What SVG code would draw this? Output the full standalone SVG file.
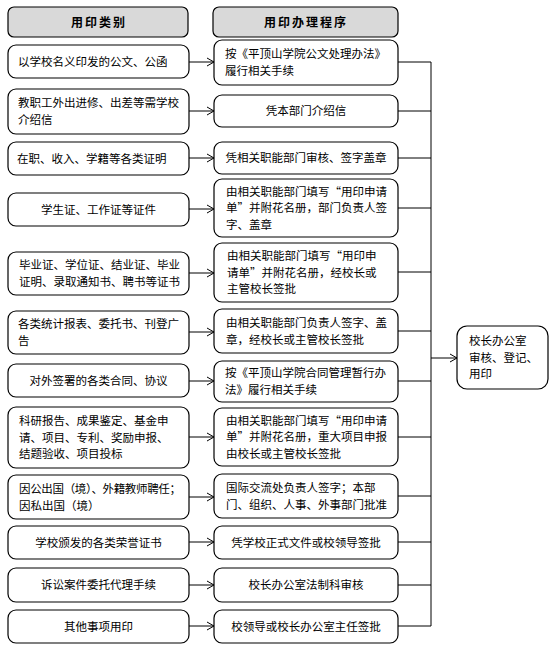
<svg xmlns="http://www.w3.org/2000/svg" width="556" height="654" viewBox="0 0 556 654">
<style>
text{font-family:"Noto Sans CJK SC","Noto Sans",sans-serif;font-size:11.5px;fill:#000}
.box{fill:#fff;stroke:#000;stroke-width:1.2}
.hdr{fill:#d9d9d9;stroke:#000;stroke-width:1.2}
.h{font-weight:bold;letter-spacing:2px;text-anchor:middle;font-size:12px}
.c{text-anchor:middle}
.ln{stroke:#000;stroke-width:1;fill:none}
</style>
<defs>
<marker id="ah" markerUnits="userSpaceOnUse" markerWidth="10" markerHeight="10" refX="8" refY="5" orient="auto">
<path d="M1,1 L8,5 L1,9" fill="none" stroke="#000" stroke-width="1"/>
</marker>
</defs>
<rect width="556" height="654" fill="#fff"/>
<g id="hdr-left"><rect class="hdr" x="8" y="7" width="180" height="30" rx="6"/><text class="h" x="99" y="26.5">用印类别</text></g>
<g id="hdr-right"><rect class="hdr" x="213" y="7" width="185" height="30" rx="6"/><text class="h" x="306" y="26.5">用印办理程序</text></g>

<g id="connectors">
<line class="ln" x1="189" y1="62" x2="214" y2="62" marker-end="url(#ah)"/>
<line class="ln" x1="189" y1="111" x2="214" y2="111" marker-end="url(#ah)"/>
<line class="ln" x1="189" y1="158" x2="214" y2="158" marker-end="url(#ah)"/>
<line class="ln" x1="189" y1="209" x2="214" y2="209" marker-end="url(#ah)"/>
<line class="ln" x1="189" y1="273" x2="214" y2="273" marker-end="url(#ah)"/>
<line class="ln" x1="189" y1="332" x2="214" y2="332" marker-end="url(#ah)"/>
<line class="ln" x1="189" y1="381" x2="214" y2="381" marker-end="url(#ah)"/>
<line class="ln" x1="189" y1="437" x2="214" y2="437" marker-end="url(#ah)"/>
<line class="ln" x1="189" y1="497" x2="214" y2="497" marker-end="url(#ah)"/>
<line class="ln" x1="189" y1="542" x2="214" y2="542" marker-end="url(#ah)"/>
<line class="ln" x1="189" y1="585" x2="214" y2="585" marker-end="url(#ah)"/>
<line class="ln" x1="189" y1="626" x2="214" y2="626" marker-end="url(#ah)"/>
<path class="ln" d="M398,62 H431 M398,111 H431 M398,158 H431 M398,208 H431 M398,272 H431 M398,331 H431 M398,381 H431 M398,437 H431 M398,496 H431 M398,542 H431 M398,585 H431 M398,626 H431 M431,62 V626"/>
<line class="ln" x1="431" y1="358" x2="457" y2="358" marker-end="url(#ah)"/>
</g>

<g id="l1"><rect class="box" x="8" y="45" width="181" height="33" rx="8"/><text x="18" y="65.7">以学校名义印发的公文、公函</text></g>
<g id="l2"><rect class="box" x="8" y="89" width="181" height="45" rx="8"/><text><tspan x="18" y="107.4">教职工外出进修、出差等需学校</tspan><tspan x="18" y="124.1">介绍信</tspan></text></g>
<g id="l3"><rect class="box" x="8" y="142" width="181" height="33" rx="8"/><text x="17" y="162.7">在职、收入、学籍等各类证明</text></g>
<g id="l4"><rect class="box" x="8" y="193" width="181" height="33" rx="8"/><text class="c" x="98.5" y="213.7">学生证、工作证等证件</text></g>
<g id="l5"><rect class="box" x="8" y="252" width="181" height="43" rx="8"/><text><tspan x="19" y="269.4">毕业证、学位证、结业证、毕业</tspan><tspan x="19" y="286.1">证明、录取通知书、聘书等证书</tspan></text></g>
<g id="l6"><rect class="box" x="8" y="311" width="181" height="43" rx="8"/><text><tspan x="18" y="328.4">各类统计报表、委托书、刊登广</tspan><tspan x="18" y="345.1">告</tspan></text></g>
<g id="l7"><rect class="box" x="8" y="364" width="181" height="33" rx="8"/><text class="c" x="98.5" y="384.7">对外签署的各类合同、协议</text></g>
<g id="l8"><rect class="box" x="8" y="407" width="181" height="61" rx="8"/><text><tspan x="19" y="425">科研报告、成果鉴定、基金申</tspan><tspan x="19" y="441.7">请、项目、专利、奖励申报、</tspan><tspan x="19" y="458.4">结题验收、项目投标</tspan></text></g>
<g id="l9"><rect class="box" x="8" y="475" width="181" height="44" rx="8"/><text><tspan x="19" y="492.9" textLength="162">因公出国（境）、外籍教师聘任；</tspan><tspan x="19" y="509.6">因私出国（境）</tspan></text></g>
<g id="l10"><rect class="box" x="8" y="526" width="181" height="33" rx="8"/><text class="c" x="98.5" y="546.7">学校颁发的各类荣誉证书</text></g>
<g id="l11"><rect class="box" x="8" y="568" width="181" height="34" rx="8"/><text class="c" x="98.5" y="589.2">诉讼案件委托代理手续</text></g>
<g id="l12"><rect class="box" x="8" y="610" width="181" height="33" rx="8"/><text class="c" x="98.5" y="630.7">其他事项用印</text></g>

<g id="r1"><rect class="box" x="214" y="40" width="184" height="45" rx="8"/><text><tspan x="225" y="58.4">按《平顶山学院公文处理办法》</tspan><tspan x="225" y="75.1">履行相关手续</tspan></text></g>
<g id="r2"><rect class="box" x="214" y="95" width="184" height="32" rx="8"/><text class="c" x="306" y="115.2">凭本部门介绍信</text></g>
<g id="r3"><rect class="box" x="214" y="142" width="184" height="32" rx="8"/><text class="c" x="306" y="162.2">凭相关职能部门审核、签字盖章</text></g>
<g id="r4"><rect class="box" x="214" y="179" width="184" height="58" rx="8"/><text><tspan x="226" y="195.5">由相关职能部门填写“用印申请</tspan><tspan x="226" y="212.2">单”并附花名册，部门负责人签</tspan><tspan x="226" y="228.9">字、盖章</tspan></text></g>
<g id="r5"><rect class="box" x="214" y="243" width="184" height="59" rx="8"/><text><tspan x="227" y="260">由相关职能部门填写“用印申</tspan><tspan x="227" y="276.7">请单”并附花名册，经校长或</tspan><tspan x="227" y="293.4">主管校长签批</tspan></text></g>
<g id="r6"><rect class="box" x="214" y="309" width="184" height="44" rx="8"/><text><tspan x="226" y="326.9">由相关职能部门负责人签字、盖</tspan><tspan x="226" y="343.6">章，经校长或主管校长签批</tspan></text></g>
<g id="r7"><rect class="box" x="214" y="361" width="184" height="41" rx="8"/><text><tspan x="225" y="377.4">按《平顶山学院合同管理暂行办</tspan><tspan x="225" y="394.1">法》履行相关手续</tspan></text></g>
<g id="r8"><rect class="box" x="214" y="408" width="184" height="58" rx="8"/><text><tspan x="226" y="424.5">由相关职能部门填写“用印申请</tspan><tspan x="226" y="441.2">单”并附花名册，重大项目申报</tspan><tspan x="226" y="457.9">由校长或主管校长签批</tspan></text></g>
<g id="r9"><rect class="box" x="214" y="474" width="184" height="44" rx="8"/><text><tspan x="226" y="491.9">国际交流处负责人签字；本部</tspan><tspan x="226" y="508.6">门、组织、人事、外事部门批准</tspan></text></g>
<g id="r10"><rect class="box" x="214" y="526" width="184" height="33" rx="8"/><text class="c" x="306" y="546.7">凭学校正式文件或校领导签批</text></g>
<g id="r11"><rect class="box" x="214" y="568" width="184" height="34" rx="8"/><text class="c" x="306" y="589.2">校长办公室法制科审核</text></g>
<g id="r12"><rect class="box" x="214" y="610" width="184" height="33" rx="8"/><text class="c" x="306" y="630.7">校领导或校长办公室主任签批</text></g>

<g id="final"><rect class="box" x="457" y="326" width="91" height="63" rx="10"/><text><tspan x="469" y="345">校长办公室</tspan><tspan x="469" y="361.7">审核、登记、</tspan><tspan x="469" y="378.4">用印</tspan></text></g>
</svg>
